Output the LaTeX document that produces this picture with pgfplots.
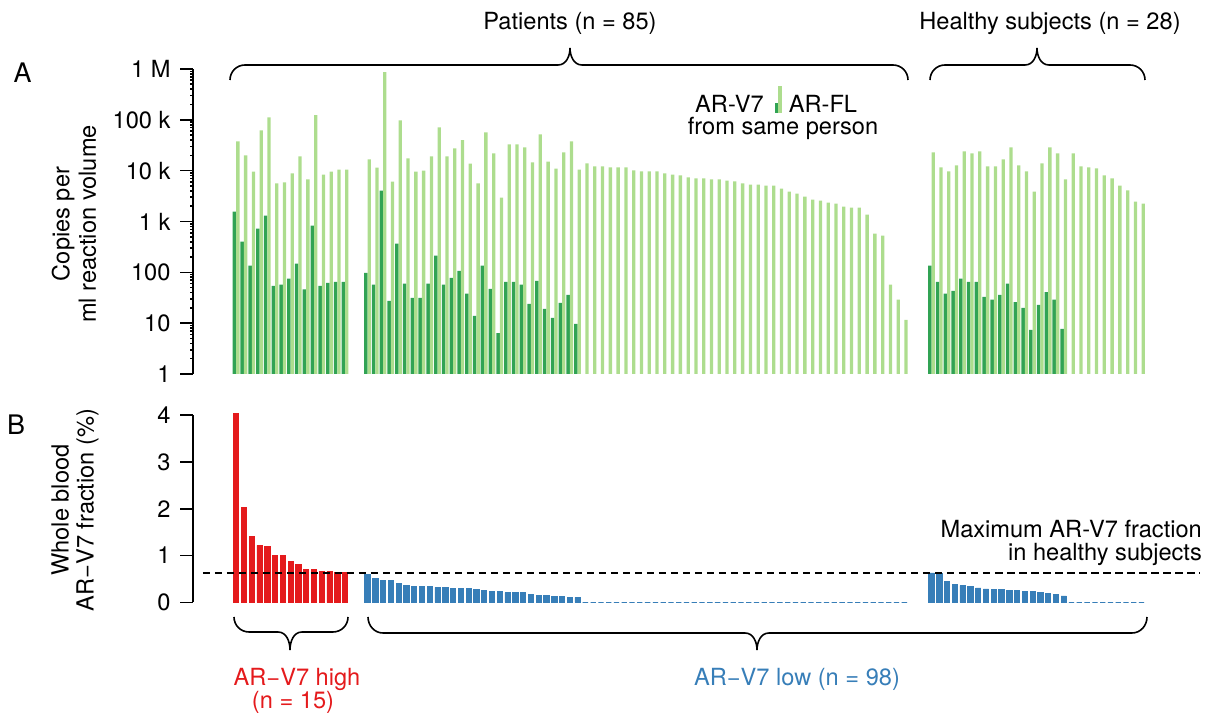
\documentclass[border=0pt]{standalone}
\usepackage{fontspec}
\setmainfont{TeX Gyre Heros}
\usepackage{pgfplots}
\pgfplotsset{compat=1.18}
\usepackage{pgfplotstable}
\definecolor{lgreen}{RGB}{173,221,142}
\definecolor{dgreen}{RGB}{49,163,84}
\definecolor{sred}{RGB}{228,26,28}
\definecolor{sblue}{RGB}{55,126,184}

\pgfplotstableread{
idx fl v7 frac
0 37700 1570 4.04
1 20000 400 2.03
2 9600 135 1.41
3 62000 725 1.22
4 112000 1310 1.20
5 5600 54 1.00
6 5900 57 1.00
7 8800 75 0.88
8 19000 148 0.81
9 6700 46 0.705
10 123000 830 0.705
11 8400 54 0.66
12 9600 62 0.66
13 10500 65 0.64
14 10500 65 0.64
}\high

\pgfplotstableread{
idx fl v7 frac
0 16600 98 0.60
1 11500 57 0.51
2 870000 4060 0.47
3 6100 27.5 0.47
4 98000 366 0.41
5 17400 60 0.36
6 9600 31.5 0.34
7 10000 31.5 0.34
8 19000 60 0.34
9 71000 213 0.32
10 19000 57 0.32
11 27500 78 0.30
12 40000 107 0.30
13 13800 38 0.30
14 5600 13.9 0.28
15 56500 135 0.26
16 21800 47.5 0.235
17 2960 6.4 0.235
18 33000 65 0.21
19 33000 65 0.21
20 28700 57 0.21
21 14500 24 0.17
22 51600 68 0.15
23 15100 19 0.15
24 11000 12.7 0.13
25 22900 25 0.13
26 37700 36 0.107
27 10500 9.7 0.107
28 13900 nan 0
29 12100 nan 0
30 12100 nan 0
31 11600 nan 0
32 11600 nan 0
33 11600 nan 0
34 10100 nan 0
35 9650 nan 0
36 9650 nan 0
37 9650 nan 0
38 8800 nan 0
39 8400 nan 0
40 8040 nan 0
41 7340 nan 0
42 7020 nan 0
43 7020 nan 0
44 6700 nan 0
45 6700 nan 0
46 6400 nan 0
47 6120 nan 0
48 5590 nan 0
49 5340 nan 0
50 5340 nan 0
51 5100 nan 0
52 5100 nan 0
53 4450 nan 0
54 3890 nan 0
55 3550 nan 0
56 3100 nan 0
57 2700 nan 0
58 2580 nan 0
59 2360 nan 0
60 2250 nan 0
61 1970 nan 0
62 1880 nan 0
63 1880 nan 0
64 1370 nan 0
65 577 nan 0
66 527 nan 0
67 57 nan 0
68 29 nan 0
69 11.6 nan 0
}\low

\pgfplotstableread{
idx fl v7 frac
0 22900 135 0.63
1 11600 65 0.63
2 9650 38 0.44
3 12700 43 0.38
4 23900 75 0.36
5 21800 65 0.335
6 23900 65 0.31
7 12100 33 0.29
8 12100 29 0.27
9 16600 36 0.27
10 28700 60 0.25
11 12700 26 0.25
12 9650 20 0.23
13 3890 7.4 0.23
14 13900 23 0.21
15 28700 41 0.185
16 21800 29 0.165
17 6700 7.7 0.14
18 21800 nan 0
19 12100 nan 0
20 11600 nan 0
21 11050 nan 0
22 8040 nan 0
23 7020 nan 0
24 5100 nan 0
25 4070 nan 0
26 2470 nan 0
27 2250 nan 0
}\healthy

\pgfplotsset{
  base/.style={
    scale only axis, width=961.24bp, xmin=-5.553, xmax=118,
    axis y line*=left, axis x line=none, xtick=\empty,
    y axis line style={line width=1.6bp, -},
    ytick style={line width=1.6bp, black},
    tick align=outside, major tick length=13bp, ytick pos=left,
    clip=false,
    /pgf/number format/assume math mode=true,
    yticklabel style={font=\fontsize{23.7}{26}\selectfont, anchor=east, xshift=-6bp},
  }
}

\begin{document}
\begin{tikzpicture}[x=1bp,y=1bp]
\useasboundingbox (0,0) rectangle (1207,713);

% Panel A
\begin{axis}[base, at={(193bp,339bp)}, anchor=south west, height=305bp,
  ymode=log, ymin=1, ymax=1e6,
  ytick={1,10,100,1000,10000,100000,1000000},
  yticklabels={1,10,100,1 k,10 k,100 k,1 M}]
\addplot[ybar, bar width=0.45, bar shift=-0.225, fill=dgreen, draw=none] table[x expr=\thisrow{idx}, y=v7]{\high};
\addplot[ybar, bar width=0.424, bar shift=0.212, fill=lgreen, draw=none] table[x expr=\thisrow{idx}, y=fl]{\high};
\addplot[ybar, bar width=0.45, bar shift=-0.225, fill=dgreen, draw=none] table[x expr=\thisrow{idx}+16.88, y=v7]{\low};
\addplot[ybar, bar width=0.424, bar shift=0.212, fill=lgreen, draw=none] table[x expr=\thisrow{idx}+16.88, y=fl]{\low};
\addplot[ybar, bar width=0.45, bar shift=-0.225, fill=dgreen, draw=none] table[x expr=\thisrow{idx}+89.37, y=v7]{\healthy};
\addplot[ybar, bar width=0.424, bar shift=0.212, fill=lgreen, draw=none] table[x expr=\thisrow{idx}+89.37, y=fl]{\healthy};
\end{axis}

% Panel B
\begin{axis}[base, at={(193bp,110.5bp)}, anchor=south west, height=187.5bp,
  ymin=0, ymax=4, ytick={0,1,2,3,4}]
\addplot[ybar, bar width=0.68, bar shift=0, fill=sred, draw=sred, line width=0.8bp] table[x expr=\thisrow{idx}, y=frac]{\high};
\addplot[ybar, bar width=0.68, bar shift=0, fill=sblue, draw=sblue, line width=0.8bp] table[x expr=\thisrow{idx}+16.88, y=frac]{\low};
\addplot[ybar, bar width=0.68, bar shift=0, fill=sblue, draw=sblue, line width=0.8bp] table[x expr=\thisrow{idx}+89.37, y=frac]{\healthy};
\addplot[black, line width=1.8bp, dash pattern=on 7.5bp off 4.5bp] coordinates {(-4.27,0.63) (123.9,0.63)};
\end{axis}

\tikzset{txt/.style={font=\fontsize{23.7}{24}\selectfont, inner sep=0pt}}
% panel letters
\node[font=\fontsize{27}{30}\selectfont, inner sep=0pt] at (22.5,640.5) {A};
\node[font=\fontsize{27}{30}\selectfont, inner sep=0pt] at (16,288) {B};
% y labels
\node[font=\fontsize{23.7}{26.5}\selectfont, rotate=90, align=center, inner sep=0pt] at (74,489) {Copies per\\ml reaction volume};
\node[font=\fontsize{23.7}{25}\selectfont, rotate=90, align=center, inner sep=0pt] at (75,203) {Whole blood\\AR\textminus V7 fraction (\%)};
% titles
\node[txt, anchor=base] at (570,683) {Patients (n = 85)};
\node[txt, anchor=base] at (1050,683) {Healthy subjects (n = 28)};
% top braces
\draw[line width=1.6bp] (230,633) to[out=90,in=180] (245,648) -- (558,648) to[out=0,in=-90] (570,665) to[out=-90,in=180] (582,648) -- (893,648) to[out=0,in=90] (908,633);
\draw[line width=1.6bp] (930,633) to[out=90,in=180] (945,648) -- (1025,648) to[out=0,in=-90] (1037,665) to[out=-90,in=180] (1049,648) -- (1130,648) to[out=0,in=90] (1145,633);
% bottom braces
\draw[line width=1.6bp] (234,96) to[out=-90,in=180] (249,81) -- (278,81) to[out=0,in=90] (290,63) to[out=90,in=180] (302,81) -- (333,81) to[out=0,in=-90] (348,96);
\draw[line width=1.6bp] (368,96) to[out=-90,in=180] (383,80) -- (745,80) to[out=0,in=90] (757,63) to[out=90,in=180] (769,80) -- (1132,80) to[out=0,in=-90] (1147,96);
% legend
\node[txt, anchor=base west] at (695,600) {AR-V7\hspace{11bp}\textcolor{dgreen}{\rule{3.6bp}{10bp}}\textcolor{lgreen}{\rule{3.6bp}{27bp}}\hspace{7bp}AR-FL};
\node[txt, anchor=base] at (783,578) {from same person};
% threshold label
\node[txt, anchor=base east] at (1202,175) {Maximum AR-V7 fraction};
\node[txt, anchor=base east] at (1202,152) {in healthy subjects};
% group labels
\node[txt, anchor=base, text=sred] at (297,27) {AR\textminus V7 high};
\node[txt, anchor=base, text=sred] at (293,4) {(n = 15)};
\node[txt, anchor=base, text=sblue] at (797,27) {AR\textminus V7 low (n = 98)};
\end{tikzpicture}
\end{document}
